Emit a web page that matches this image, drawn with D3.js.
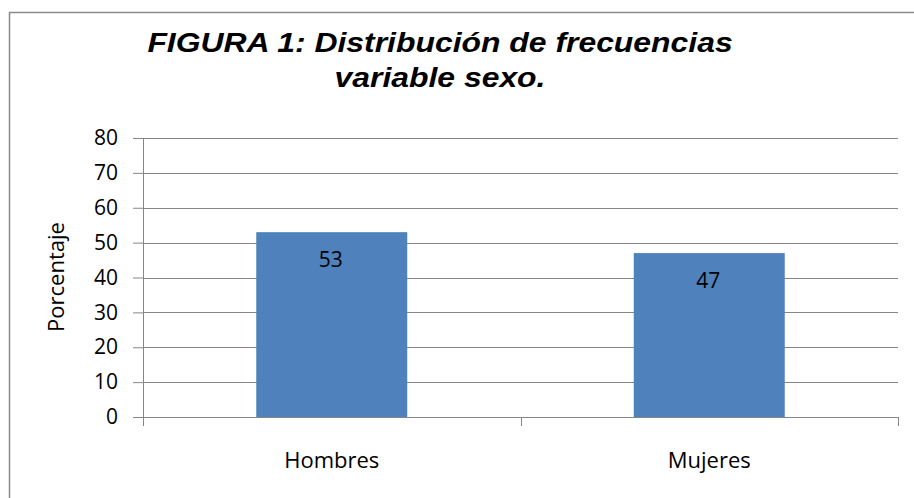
<!DOCTYPE html>
<html>
<head>
<meta charset="utf-8">
<script src="https://cdn.jsdelivr.net/npm/d3@7"></script>
<style>
  body { margin: 0; background: #fff; }
  svg text { font-family: "Open Sans", "Noto Sans", sans-serif; }
</style>
</head>
<body>
<div id="chart"></div>
<script>
const WIDTH = 914;
const HEIGHT = 498;

// --------------- Data ---------------
const categories = ["Hombres", "Mujeres"];
const values = [53, 47];
const yTicks = [0, 10, 20, 30, 40, 50, 60, 70, 80];
const titleLines = ["FIGURA 1: Distribución de frecuencias", "variable sexo."];
const yLabel = "Porcentaje";

const BAR_COLOR = "#4F81BD";
const GRID_COLOR = "#868686";

const margin = { top: 138, right: 16, bottom: 81, left: 143 };
const plotW = WIDTH - margin.left - margin.right;
const plotH = HEIGHT - margin.top - margin.bottom;

const svg = d3.select("#chart")
  .append("svg")
  .attr("width", WIDTH)
  .attr("height", HEIGHT);

// outer chart border
svg.append("rect")
  .attr("x", 9.5)
  .attr("y", 12.5)
  .attr("width", WIDTH)
  .attr("height", HEIGHT)
  .attr("fill", "none")
  .attr("stroke", "#8a8a8a")
  .attr("stroke-width", 1.5);

// title (slightly stretched to match the original width)
svg.append("g")
  .attr("transform", "translate(440,0) scale(1.16,1)")
  .selectAll("text")
  .data(titleLines)
  .enter()
  .append("text")
  .attr("x", 0)
  .attr("y", (d, i) => 52 + i * 35)
  .attr("text-anchor", "middle")
  .style("font-family", "'Liberation Sans', Arial, sans-serif")
  .style("font-weight", "bold")
  .style("font-style", "italic")
  .style("font-size", "27.5px")
  .attr("fill", "#000")
  .text(d => d);

const g = svg.append("g")
  .attr("transform", `translate(${margin.left},${margin.top})`);

const x = d3.scaleBand()
  .domain(categories)
  .range([0, plotW])
  .padding(0);

const y = d3.scaleLinear()
  .domain([0, 80])
  .range([plotH, 0]);

// gridlines
g.append("g")
  .selectAll("line")
  .data(yTicks.filter(d => d > 0))
  .enter()
  .append("line")
  .attr("x1", 0)
  .attr("x2", plotW)
  .attr("y1", d => Math.round(y(d)) + 0.5)
  .attr("y2", d => Math.round(y(d)) + 0.5)
  .attr("stroke", GRID_COLOR)
  .attr("stroke-width", 1);

// bars
const barW = x.bandwidth() * 0.4;
g.append("g")
  .selectAll("rect")
  .data(categories)
  .enter()
  .append("rect")
  .attr("x", d => x(d) + (x.bandwidth() - barW) / 2)
  .attr("y", (d, i) => y(values[i]))
  .attr("width", barW)
  .attr("height", (d, i) => plotH - y(values[i]))
  .attr("fill", BAR_COLOR);

// data labels
g.append("g")
  .selectAll("text")
  .data(categories)
  .enter()
  .append("text")
  .attr("x", d => x(d) + x.bandwidth() / 2 - 1)
  .attr("y", (d, i) => y(values[i]) + 35)
  .attr("text-anchor", "middle")
  .style("font-size", "21px")
  .attr("fill", "#000")
  .text((d, i) => values[i]);

// y axis
const yAxis = g.append("g")
  .call(d3.axisLeft(y).tickValues(yTicks).tickSize(10).tickPadding(15));
yAxis.select(".domain").attr("stroke", GRID_COLOR).attr("d", `M0.5,${plotH + 9}V0`);
yAxis.selectAll(".tick line").attr("stroke", GRID_COLOR);
yAxis.selectAll(".tick text")
  .style("font-size", "21px")
  .attr("fill", "#000");

// x axis
const xAxis = g.append("g")
  .attr("transform", `translate(0,${plotH})`)
  .call(d3.axisBottom(x).tickSize(0));
xAxis.select(".domain").attr("stroke", GRID_COLOR).attr("d", `M0,0.5H${plotW}`);
xAxis.selectAll(".tick text")
  .attr("y", 51)
  .attr("dy", 0)
  .style("font-size", "22px")
  .attr("fill", "#000");

// category separator ticks
g.append("g")
  .selectAll("line")
  .data([0, 1, 2])
  .enter()
  .append("line")
  .attr("x1", d => Math.round(d * x.step()) + 0.5)
  .attr("x2", d => Math.round(d * x.step()) + 0.5)
  .attr("y1", plotH)
  .attr("y2", plotH + 9)
  .attr("stroke", GRID_COLOR);

// y axis title
svg.append("text")
  .attr("transform", "translate(64,277) rotate(-90)")
  .attr("text-anchor", "middle")
  .style("font-size", "22px")
  .attr("fill", "#000")
  .text(yLabel);
</script>
</body>
</html>
